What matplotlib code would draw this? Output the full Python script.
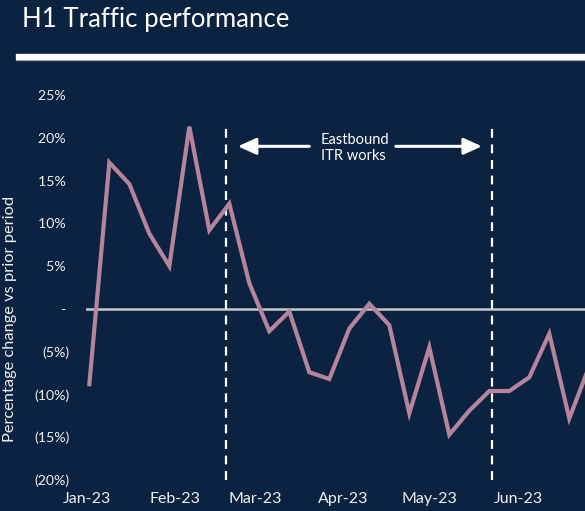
import matplotlib
matplotlib.use("Agg")
import matplotlib.pyplot as plt
import matplotlib.dates as mdates
from matplotlib.patches import Rectangle
import pandas as pd
import datetime as dt

# ---- data ----
start_date = "2023-01-02"
n_weeks = 26
pct_change = [-8.8, 17.1, 14.6, 8.8, 5.0, 21.3, 9.2, 12.3, 3.0, -2.6, -0.3, -7.4, -8.2,
              -2.3, 0.6, -1.9, -12.2, -4.5, -14.7, -11.9, -9.6, -9.6, -8.0, -2.9, -12.8, -6.7]
works_start = "2023-02-19"
works_end = "2023-05-23"
y_ticks = [-20, -15, -10, -5, 0, 5, 10, 15, 20, 25]
month_ticks = ["2023-01-01", "2023-02-01", "2023-03-01", "2023-04-01", "2023-05-01", "2023-06-01"]
annotation_text = "Eastbound\nITR works"
title_text = "H1 Traffic performance"
ylabel_text = "Percentage change vs prior period"

dates = pd.date_range(start_date, periods=n_weeks, freq="7D")

BG = "#0b2240"
LINE = "#b6849d"
TXT = "#f0f0f0"
FONT = ["Lato", "DejaVu Sans"]
plt.rcParams["font.family"] = FONT

W, H = 585, 511
fig = plt.figure(figsize=(W / 100, H / 100), dpi=100, facecolor=BG)

ax_left_px, ax_right_px = 86.2, 585
ax_top_px, ax_bot_px = 95, 480
ax = fig.add_axes([ax_left_px / W, 1 - ax_bot_px / H,
                   (ax_right_px - ax_left_px) / W, (ax_bot_px - ax_top_px) / H])
ax.set_facecolor(BG)

base = mdates.date2num(dt.datetime(2023, 1, 1))
ax.set_xlim(base - 0.1, base + 174.5)
ax.set_ylim(-20, 25)

ax.axhline(0, color="#c9c9c9", lw=1.8, zorder=1)
ax.plot(dates, pct_change, color=LINE, lw=3.0, solid_joinstyle="miter", zorder=3)

for d in (works_start, works_end):
    ax.vlines(pd.Timestamp(d), -20, 21.5, colors="white", lw=1.6,
              linestyles=(0, (4, 3)), zorder=2)

# arrows
ya = 19.0
ax.annotate("", xy=(base + 53, ya), xytext=(base + 78, ya),
            arrowprops=dict(arrowstyle="-|>,head_length=0.55,head_width=0.25",
                            color="white", lw=2.2, mutation_scale=20,
                            shrinkA=0, shrinkB=0))
ax.annotate("", xy=(base + 138.4, ya), xytext=(base + 108.3, ya),
            arrowprops=dict(arrowstyle="-|>,head_length=0.55,head_width=0.25",
                            color="white", lw=2.2, mutation_scale=20,
                            shrinkA=0, shrinkB=0))
ax.text(base + 82.1, 18.8, annotation_text, color="white", fontsize=10.5,
        ha="left", va="center", linespacing=1.25)

for s in ax.spines.values():
    s.set_visible(False)

ax.set_yticks(y_ticks)
def fmt(v):
    if v > 0:
        return f"{v}% "
    if v < 0:
        return f"({-v}%)"
    return "- "
ax.set_yticklabels([fmt(v) for v in y_ticks])
ax.set_xticks([pd.Timestamp(m) for m in month_ticks])
ax.xaxis.set_major_formatter(mdates.DateFormatter("%b-%y"))
ax.tick_params(axis="both", length=0, colors=TXT)
ax.tick_params(axis="y", pad=12, labelsize=10.2)
ax.tick_params(axis="x", pad=8.5, labelsize=11.5)

fig.text(10 / W, 1 - 319 / H, ylabel_text, rotation=90, color=TXT,
         fontsize=11.8, ha="center", va="center")

fig.text(22 / W, 1 - 27 / H, title_text, color="white", fontsize=18.5,
         ha="left", va="baseline")

fig.patches.append(Rectangle((16 / W, 1 - 60 / H), 1, 1 / H, transform=fig.transFigure,
                             color="#7a8595", zorder=5))
fig.patches.append(Rectangle((16 / W, 1 - 59 / H), 1, 5 / H, transform=fig.transFigure,
                             color="white", zorder=6))

fig.savefig("out.png", dpi=100, facecolor=BG)
